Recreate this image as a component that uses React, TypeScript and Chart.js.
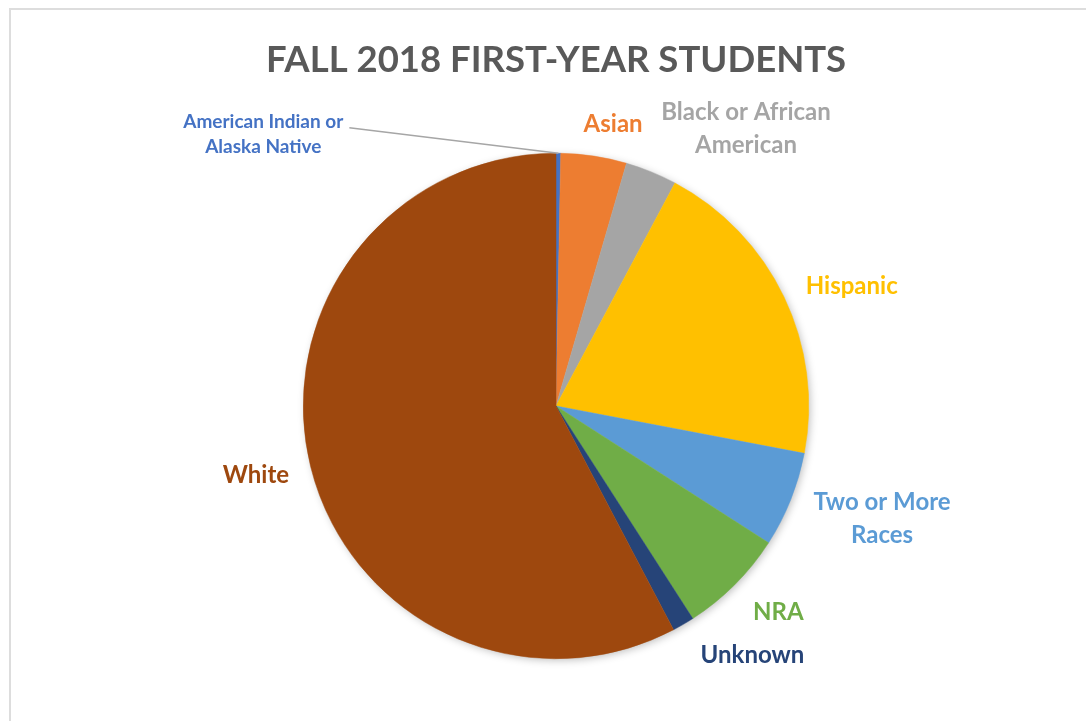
import { useEffect, useRef } from 'react';
import Chart from 'chart.js/auto';

// share of fall 2018 first-year students, %
const categories = [
  'American Indian or Alaska Native',
  'Asian',
  'Black or African American',
  'Hispanic',
  'Two or More Races',
  'NRA',
  'Unknown',
  'White',
];
const shares = [0.3, 4.2, 3.3, 20.2, 6.1, 6.8, 1.4, 57.7];
const sliceColors = [
  '#4472C4',
  '#ED7D31',
  '#A5A5A5',
  '#FFC000',
  '#5B9BD5',
  '#70AD47',
  '#264478',
  '#9E480E',
];
// how each label wraps, as on the original
const labelLines = [
  ['American Indian or', 'Alaska Native'],
  ['Asian'],
  ['Black or African', 'American'],
  ['Hispanic'],
  ['Two or More', 'Races'],
  ['NRA'],
  ['Unknown'],
  ['White'],
];

const FONT = 'Lato, "Open Sans", sans-serif';

// small nudges so labels sit where Excel put them
const labelNudge: [number, number][] = [
  [-296, 24],
  [12, 2],
  [56, 4],
  [10, 4],
  [11, 0],
  [13, 3],
  [34, 1],
  [-5, 0],
];

const outsideLabels = {
  id: 'outsideLabels',
  beforeDatasetsDraw(chart: any) {
    const arc = chart.getDatasetMeta(0).data[0];
    if (!arc) return;
    const ctx = chart.ctx;
    ctx.save();
    ctx.shadowColor = 'rgba(0,0,0,0.28)';
    ctx.shadowBlur = 9;
    ctx.shadowOffsetX = 2;
    ctx.shadowOffsetY = 2;
    ctx.fillStyle = '#ffffff';
    ctx.beginPath();
    ctx.arc(arc.x, arc.y, arc.outerRadius - 1, 0, Math.PI * 2);
    ctx.fill();
    ctx.restore();
  },
  afterDatasetsDraw(chart: any) {
    const ctx = chart.ctx;
    const arcs = chart.getDatasetMeta(0).data;
    arcs.forEach((arc: any, i: number) => {
      const small = i === 0;
      const size = small ? 19 : 24;
      const lineH = small ? 25 : 33;
      ctx.save();
      ctx.font = `bold ${size}px ${FONT}`;
      const lines = labelLines[i];
      const w = Math.max(...lines.map((l) => ctx.measureText(l).width));
      const h = lines.length * lineH;
      const mid = (arc.startAngle + arc.endAngle) / 2;
      const c = Math.cos(mid);
      const s = Math.sin(mid);
      const R = arc.outerRadius + 18;
      const ax = arc.x + R * c;
      const ay = arc.y + R * s;
      const bx = ax + (c * w) / 2 + labelNudge[i][0];
      const by = ay + (s * h) / 2 + labelNudge[i][1];
      ctx.fillStyle = sliceColors[i];
      ctx.textAlign = 'center';
      ctx.textBaseline = 'middle';
      lines.forEach((l, k) => {
        ctx.fillText(l, bx, by - h / 2 + lineH * (k + 0.5));
      });
      if (small) {
        ctx.strokeStyle = '#A6A6A6';
        ctx.lineWidth = 1.5;
        ctx.beginPath();
        ctx.moveTo(bx + w / 2 + 6, by - h / 2 + lineH / 2 + 6);
        ctx.lineTo(arc.x + arc.outerRadius * c, arc.y + arc.outerRadius * s);
        ctx.stroke();
      }
      ctx.restore();
    });
  },
};

export default function App() {
  const canvasRef = useRef<HTMLCanvasElement>(null);

  useEffect(() => {
    if (!canvasRef.current) return;
    const chart = new Chart(canvasRef.current, {
      type: 'pie',
      data: {
        labels: categories,
        datasets: [
          {
            data: shares,
            backgroundColor: sliceColors,
            borderColor: sliceColors,
            borderWidth: 0.5,
          },
        ],
      },
      options: {
        animation: false,
        responsive: true,
        maintainAspectRatio: false,
        layout: { padding: { top: 10, bottom: 62, left: 0, right: 0 } },
        plugins: {
          legend: { display: false },
          tooltip: { enabled: false },
          title: {
            display: true,
            text: 'FALL 2018 FIRST-YEAR STUDENTS',
            color: '#595959',
            font: { family: FONT, size: 36.5, weight: 'bold', lineHeight: 1.2 },
            padding: { top: 28.1, bottom: 71.1 },
          },
        },
      },
      plugins: [outsideLabels],
    });
    return () => chart.destroy();
  }, []);

  return (
    <div
      style={{
        position: 'fixed',
        left: 0,
        top: 0,
        width: 1086,
        height: 721,
        background: '#fff',
        overflow: 'hidden',
      }}
    >
      <div
        style={{
          position: 'absolute',
          left: 9,
          top: 8,
          width: 1200,
          height: 800,
          border: '2px solid #DDDDDD',
          boxSizing: 'border-box',
        }}
      />
      <div style={{ position: 'absolute', left: 0, top: 0, width: 1112, height: 721 }}>
        <canvas ref={canvasRef} />
      </div>
    </div>
  );
}
